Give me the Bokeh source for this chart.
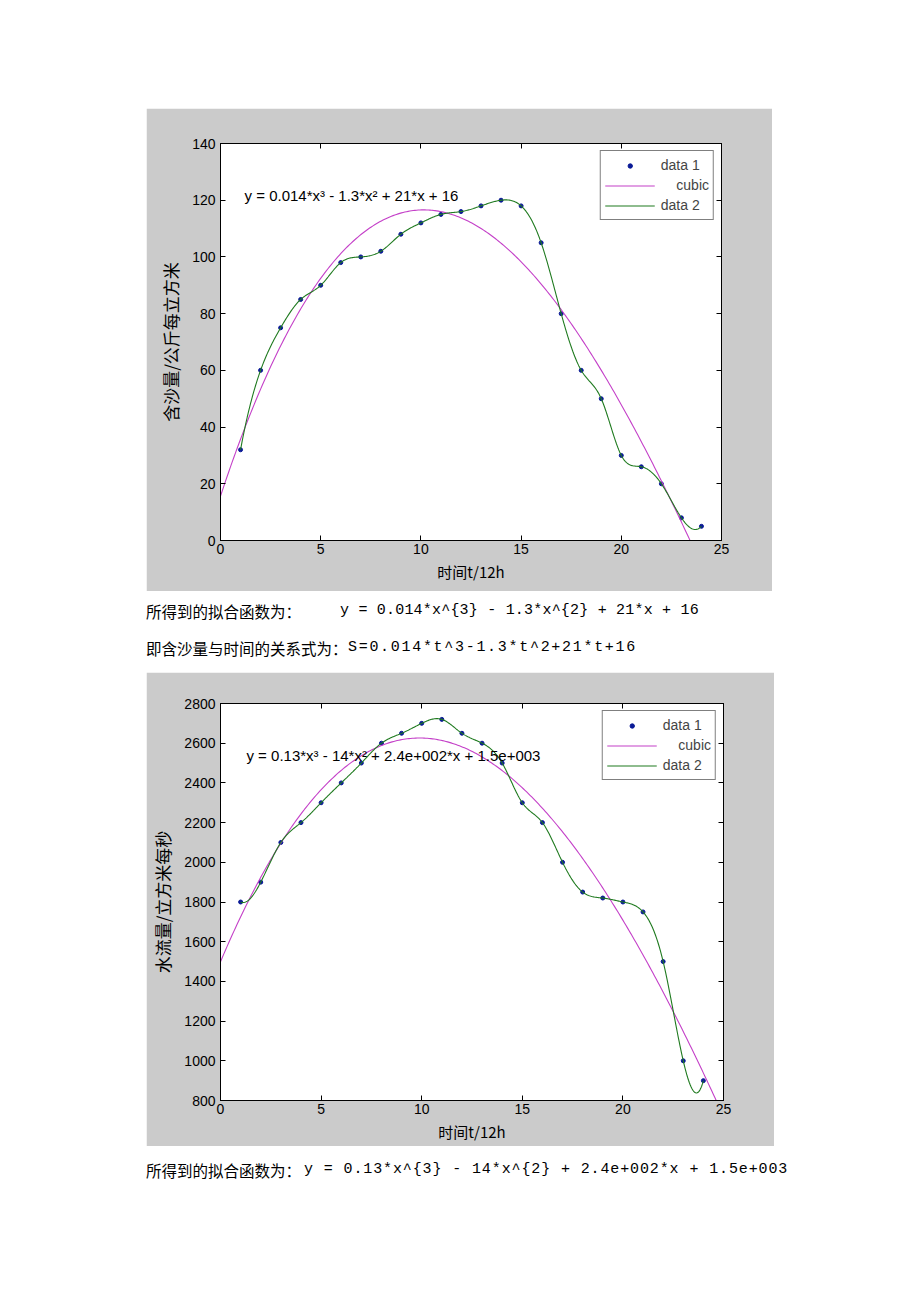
import numpy as np
from bokeh.plotting import figure
from bokeh.models import (Range1d, LinearAxis, FixedTicker, Label, Legend,
                          LegendItem, Div, Spacer)
from bokeh.layouts import column, row
from bokeh.embed import file_html
from bokeh.resources import INLINE

# ---------------- data ----------------
t_days = list(range(1, 25))
sand = [32, 60, 75, 85, 90, 98, 100, 102, 108, 112, 115, 116,
        118, 120, 118, 105, 80, 60, 50, 30, 26, 20, 8, 5]
flow = [1800, 1900, 2100, 2200, 2300, 2400, 2500, 2600, 2650, 2700, 2720, 2650,
        2600, 2500, 2300, 2200, 2000, 1850, 1820, 1800, 1750, 1500, 1000, 900]

x_ticks = [0, 5, 10, 15, 20, 25]
sand_ticks = [0, 20, 40, 60, 80, 100, 120, 140]
flow_ticks = [800, 1000, 1200, 1400, 1600, 1800, 2000, 2200, 2400, 2600, 2800]

title1 = "时间与含沙量关系拟合图"
title2 = "时间与水流量关系拟合图"
xlabel = "时间t/12h"
ylabel1 = "含沙量/公斤每立方米"
ylabel2 = "水流量/立方米每秒"
eq_label1 = "y = 0.014*x³ - 1.3*x² + 21*x + 16"
eq_label2 = "y = 0.13*x³ - 14*x² + 2.4e+002*x + 1.5e+003"
legend_labels = ["data 1", "\u00a0\u00a0\u00a0\u00a0cubic", "data 2"]

line1_cn = "所得到的拟合函数为："
line1_eq = "y = 0.014*x^{3} - 1.3*x^{2} + 21*x + 16"
line2_cn = "即含沙量与时间的关系式为："
line2_eq = "S=0.014*t^3-1.3*t^2+21*t+16"
line3_cn = "所得到的拟合函数为："
line3_eq = "y = 0.13*x^{3} - 14*x^{2} + 2.4e+002*x + 1.5e+003"

GRAY = "#cbcbcb"
BLUE = "#0a1a96"
MAGENTA = "#c440c8"
GREEN = "#1f7a1f"
TICK_FONT = "Liberation Sans"
CJK = "Noto Sans CJK SC"


def spline_curve(xs, ys, per=24):
    """Not-a-knot cubic spline through the data points (MATLAB 'spline')."""
    x = np.asarray(xs, float)
    y = np.asarray(ys, float)
    n = len(x)
    h = np.diff(x)
    A = np.zeros((n, n))
    b = np.zeros(n)
    for i in range(1, n - 1):
        A[i, i - 1] = h[i - 1]
        A[i, i] = 2 * (h[i - 1] + h[i])
        A[i, i + 1] = h[i]
        b[i] = 6 * ((y[i + 1] - y[i]) / h[i] - (y[i] - y[i - 1]) / h[i - 1])
    A[0, 0], A[0, 1], A[0, 2] = h[1], -(h[0] + h[1]), h[0]
    A[-1, -3], A[-1, -2], A[-1, -1] = h[-1], -(h[-2] + h[-1]), h[-2]
    M = np.linalg.solve(A, b)
    xx, yy = [], []
    for i in range(n - 1):
        tt = np.linspace(x[i], x[i + 1], per, endpoint=(i == n - 2))
        a = x[i + 1] - tt
        c = tt - x[i]
        s = (M[i] * a ** 3 / (6 * h[i]) + M[i + 1] * c ** 3 / (6 * h[i])
             + (y[i] / h[i] - M[i] * h[i] / 6) * a
             + (y[i + 1] / h[i] - M[i + 1] * h[i] / 6) * c)
        xx.extend(tt.tolist())
        yy.extend(s.tolist())
    return xx, yy


def make_fig(w, h, bl, br, bt, bb, yr, yticks, ys, title, title_y, ylab,
             eq, eq_x, eq_y):
    p = figure(width=w, height=h, output_backend="svg", toolbar_location=None,
               x_range=Range1d(0, 25), y_range=Range1d(*yr),
               min_border_left=bl, min_border_right=br,
               min_border_top=bt, min_border_bottom=bb,
               border_fill_color=GRAY, background_fill_color="white",
               outline_line_color="black", outline_line_width=1)
    p.grid.visible = False
    p.margin = (0, 0, 0, 0)

    xa = p.xaxis[0]
    ya = p.yaxis[0]
    xa.ticker = FixedTicker(ticks=x_ticks)
    ya.ticker = FixedTicker(ticks=yticks)
    for ax in (xa, ya):
        ax.major_tick_in = 5
        ax.major_tick_out = 0
        ax.minor_tick_line_color = None
        ax.axis_line_color = "black"
        ax.major_tick_line_color = "black"
        ax.major_label_text_font = TICK_FONT
        ax.major_label_text_font_size = "14px"
        ax.major_label_text_color = "black"
        ax.axis_label_text_font = CJK
        ax.axis_label_text_font_style = "normal"
        ax.axis_label_text_color = "black"
    xa.axis_label_text_font_size = "15px"
    ya.axis_label_text_font_size = "17px"
    xa.major_label_standoff = 3
    ya.major_label_standoff = 5
    xa.axis_label = xlabel
    ya.axis_label = ylab
    xa.axis_label_standoff = 4
    ya.axis_label_standoff = 6

    # box ticks on the top and right edges (no labels drawn)
    top = LinearAxis(ticker=FixedTicker(ticks=x_ticks),
                     major_label_text_color=None, major_label_standoff=0,
                     major_label_text_font_size="10px",
                     major_tick_in=5, major_tick_out=0,
                     minor_tick_line_color=None, axis_line_color="black")
    right = LinearAxis(ticker=FixedTicker(ticks=yticks),
                       major_label_text_color=None, major_label_standoff=0,
                       major_label_text_font_size="10px",
                       major_tick_in=5, major_tick_out=0,
                       minor_tick_line_color=None, axis_line_color="black")
    p.add_layout(top, "above")
    p.add_layout(right, "right")

    cx = np.linspace(0, 25, 300)
    coeffs = np.polyfit(t_days, ys, 3)
    cy = np.polyval(coeffs, cx)
    sx, sy = spline_curve(t_days, ys)

    r_pts = p.scatter(t_days, ys, marker="circle", size=4, color=BLUE)
    r_cub = p.line(cx, cy, line_color=MAGENTA, line_width=1.1)
    r_spl = p.line(sx, sy, line_color=GREEN, line_width=1.1)

    legend = Legend(items=[LegendItem(label=legend_labels[0], renderers=[r_pts]),
                           LegendItem(label=legend_labels[1], renderers=[r_cub]),
                           LegendItem(label=legend_labels[2], renderers=[r_spl])],
                    location="top_right", margin=7, padding=4, spacing=0,
                    glyph_width=50, glyph_height=11, label_height=20,
                    label_standoff=6, border_line_color="black",
                    border_line_width=1, background_fill_alpha=1,
                    label_text_font=TICK_FONT, label_text_font_size="14px")
    p.add_layout(legend)

    p.add_layout(Label(x=12.5, y=title_y, text=title, text_align="center",
                       text_baseline="middle", text_font=CJK,
                       text_font_size="17px", text_color="black"))
    p.add_layout(Label(x=eq_x, y=eq_y, text=eq, text_align="left",
                       text_baseline="middle", text_font=TICK_FONT,
                       text_font_size="15px", text_color="black"))
    return p


p1 = make_fig(626, 483, 71, 51, 35, 51, (0, 140), sand_ticks, sand,
              title1, 146.3, ylabel1, eq_label1, 1.2, 121.7)
p2 = make_fig(628, 474, 74, 51, 31, 46, (800, 2800), flow_ticks, flow,
              title2, 2890.0, ylabel2, eq_label2, 1.29, 2538)


def text_line(top, cn, eq, eq_left, ls):
    return (f'<div style="position:absolute;left:0px;top:{top}px;white-space:pre;'
            f'line-height:20px;font-family:\'{CJK}\';font-size:15.5px;">{cn}</div>'
            f'<div style="position:absolute;left:{eq_left}px;top:{top}px;white-space:pre;'
            f'line-height:20px;font-family:\'Liberation Mono\';font-size:15px;'
            f'letter-spacing:{ls}px;">{eq}</div>')


div1 = Div(text=('<div style="position:relative;width:660px;height:81px;color:black;">'
                 + text_line(10, line1_cn, line1_eq, 194, 0.2)
                 + text_line(47, line2_cn, line2_eq, 202, 1.7)
                 + '</div>'), width=660, height=81, margin=(0, 0, 0, 0))
div2 = Div(text=('<div style="position:relative;width:660px;height:40px;color:black;">'
                 + text_line(14, line3_cn, line3_eq, 158, 0.88)
                 + '</div>'), width=660, height=40, margin=(0, 0, 0, 0))

col = column(Spacer(width=10, height=108, margin=(0, 0, 0, 0)), p1, div1, p2, div2,
             spacing=0, margin=(0, 0, 0, 0))
layout = row(Spacer(width=146, height=10, margin=(0, 0, 0, 0)), col,
             spacing=0, margin=(0, 0, 0, 0))

open("out.html", "w").write(file_html(layout, INLINE))
